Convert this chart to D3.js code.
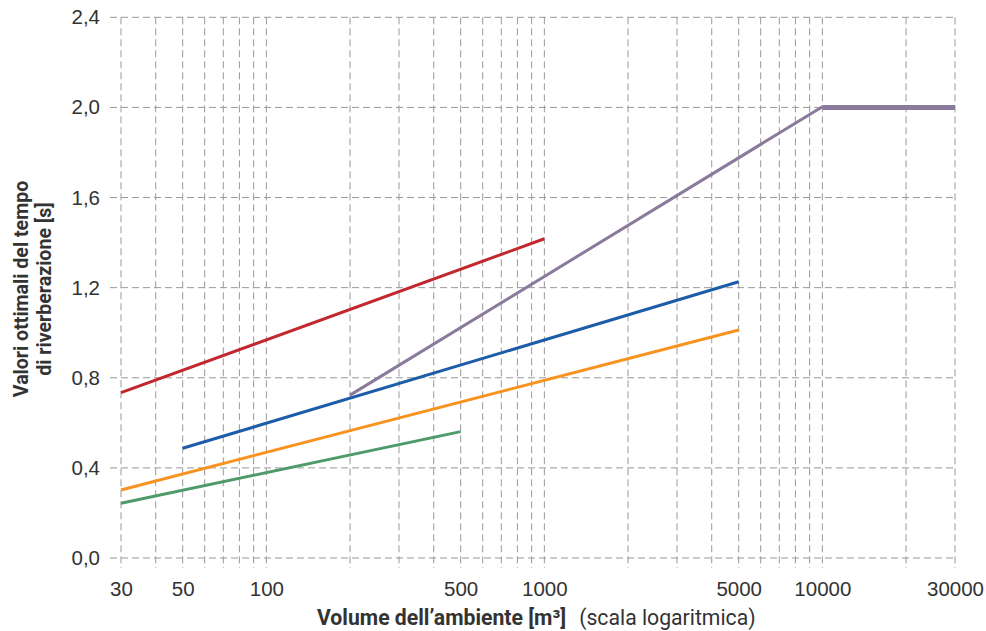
<!DOCTYPE html>
<html>
<head>
<meta charset="utf-8">
<script src="https://cdn.jsdelivr.net/npm/d3@7"></script>
<style>
  body { margin: 0; background: #fff; }
  svg { font-family: Roboto, "Noto Sans", sans-serif; }
  .tick text { fill: #333; font-size: 20.5px; }
  .grid line { stroke: #999; stroke-width: 1; stroke-dasharray: 7,4; }
</style>
</head>
<body>
<svg></svg>
<script>
// reverberation time data: [volume m3, seconds]
const redSeries = [[30, 0.734], [1000, 1.417]];
const blueSeries = [[50, 0.487], [5000, 1.226]];
const orangeSeries = [[30, 0.302], [5000, 1.012]];
const greenSeries = [[30, 0.243], [500, 0.561]];
const purpleSeries = [[200, 0.723], [10000, 2.003]];
const purpleFlat = [[10000, 2.0], [30000, 2.0]];

const xTickLabels = [30, 50, 100, 500, 1000, 5000, 10000, 30000];
const yTicks = [0, 0.4, 0.8, 1.2, 1.6, 2.0, 2.4];
const xGrid = [30, 40, 50, 60, 70, 80, 90, 100, 200, 300, 400, 500, 600, 700, 800, 900,
  1000, 2000, 3000, 4000, 5000, 6000, 7000, 8000, 9000, 10000, 20000, 30000];

let width = 986, height = 631;
let x = d3.scaleLog().domain([30, 30000]).range([121, 955]);
let y = d3.scaleLinear().domain([0, 2.4]).range([558, 17.3]);

let svg = d3.select('svg').attr('width', width).attr('height', height);

// grid
let grid = svg.append('g').classed('grid', true);
grid.selectAll('.v').data(xGrid).enter().append('line')
    .attr('x1', d => x(d)).attr('x2', d => x(d))
    .attr('y1', y(2.4)).attr('y2', 568);
grid.selectAll('.h').data(yTicks).enter().append('line')
    .attr('x1', 110).attr('x2', x(30000))
    .attr('y1', d => y(d)).attr('y2', d => y(d));

// axes (labels only)
let fmt = d3.format('.1f');
svg.append('g')
    .attr('transform', 'translate(0,' + 573 + ')')
    .call(d3.axisBottom(x).tickValues(xTickLabels).tickSize(0).tickPadding(8).tickFormat(d3.format('d')))
    .call(g => g.select('.domain').remove())
    .selectAll('text').attr('font-family', null).attr('font-size', null);

svg.append('g')
    .attr('transform', 'translate(102,0)')
    .call(d3.axisLeft(y).tickValues(yTicks).tickSize(0).tickPadding(2).tickFormat(d => fmt(d).replace('.', ',')))
    .call(g => g.select('.domain').remove())
    .selectAll('text').attr('font-family', null).attr('font-size', null);

// lines
let line = d3.line().x(d => x(d[0])).y(d => y(d[1]));
let series = [
    {data: redSeries, color: '#c1272d', w: 3},
    {data: blueSeries, color: '#1d5ca8', w: 3},
    {data: orangeSeries, color: '#f7931e', w: 3},
    {data: greenSeries, color: '#4f9a6b', w: 3},
    {data: purpleSeries, color: '#8a7a9c', w: 3},
    {data: purpleFlat, color: '#8a7a9c', w: 5}
];
svg.append('g').selectAll('path').data(series).enter().append('path')
    .attr('d', d => line(d.data))
    .attr('fill', 'none')
    .attr('stroke', d => d.color)
    .attr('stroke-width', d => d.w);

// titles
let xt = svg.append('text').attr('x', 317).attr('y', 625)
    .attr('fill', '#333').attr('font-size', 21.2);
xt.append('tspan').attr('font-weight', 'bold').text('Volume dell’ambiente [m³]');
xt.append('tspan').attr('dx', 13).text('(scala logaritmica)');

let yt = svg.append('text').attr('transform', 'translate(27.5,289) rotate(-90)')
    .attr('text-anchor', 'middle').attr('fill', '#333')
    .attr('font-size', 19.6).attr('font-weight', 'bold');
yt.append('tspan').attr('x', 0).attr('dy', 0).text('Valori ottimali del tempo');
yt.append('tspan').attr('x', 0).attr('dy', 23.5).text('di riverberazione [s]');
</script>
</body>
</html>
